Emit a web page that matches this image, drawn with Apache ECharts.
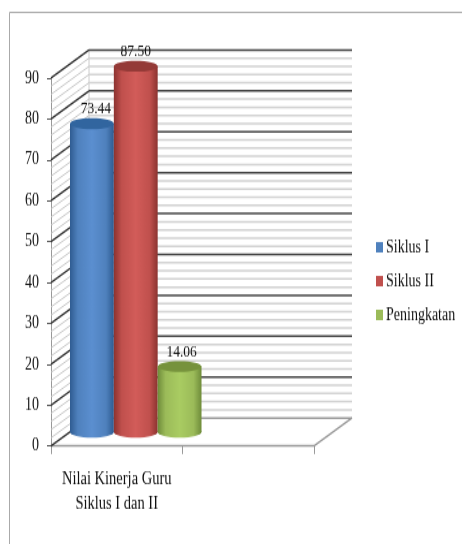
<!DOCTYPE html>
<html>
<head>
<meta charset="utf-8">
<style>
html,body{margin:0;padding:0;background:#fff;width:462px;height:544px}
#c{width:462px;height:418px;transform-origin:0 0;transform:scaleY(1.3014)}
</style>
<script src="https://cdn.jsdelivr.net/npm/echarts@6/dist/echarts.min.js"></script>
</head>
<body>
<div id="c"></div>
<script>
const categories = ['Nilai Kinerja Guru\nSiklus I dan II', ''];
const siklus1 = [73.44];
const siklus2 = [87.50];
const peningkatan = [14.06];
const seriesNames = ['Siklus I', 'Siklus II', 'Peningkatan'];
const wallTicks = [0,2,4,6,8,10,12,14,16,18,20,22,24,26,28,30,32,34,36,38,40,42,44,46,48,50,52,54,56,58,60,62,64,66,68,70,72,74,76,78,80,82,84,86,88,90];

const FONT = '"Liberation Serif", serif';
const K = 544 / 418;                // the whole picture is stretched vertically, like the reference
const DX = 38, DY = -28 / K;        // oblique depth of the box
const chart = echarts.init(document.getElementById('c'));

const palettes = [
  { main:'#4F81BD', edge:'#2F5C92', light:'#5B8FD0', top:'#31659F' },
  { main:'#C0504D', edge:'#8C3330', light:'#D25C59', top:'#943A37' },
  { main:'#9BBB59', edge:'#6F8C3A', light:'#A9CC62', top:'#76923C' }
];
const labelNudge = [4, 0, 2];

function cylinder(idx) {
  return function (params, api) {
    const band = api.size([1, 0])[0];
    const w = band / 3;
    const base = api.coord([0, 0]);
    const top = api.coord([0, api.value(0)]);
    const x0 = base[0] + DX / 2 - 1.5 * w + idx * w;
    const yB = base[1] + DY / 2;
    const yT = top[1] + DY / 2 - 8 / K;
    const ry = 5.5 / K, rx = w / 2;
    const p = palettes[idx];
    const grad = new echarts.graphic.LinearGradient(0, 0, 1, 0, [
      { offset: 0, color: p.edge },
      { offset: 0.18, color: p.main },
      { offset: 0.5, color: p.light },
      { offset: 0.82, color: p.main },
      { offset: 1, color: p.edge }
    ]);
    return {
      type: 'group',
      children: [
        { type: 'ellipse', shape: { cx: x0 + rx, cy: yB, rx: rx, ry: ry }, style: { fill: grad } },
        { type: 'rect', shape: { x: x0, y: yT, width: w, height: yB - yT }, style: { fill: grad } },
        { type: 'ellipse', shape: { cx: x0 + rx, cy: yT, rx: rx, ry: ry }, style: { fill: p.top } },
        { type: 'text', x: x0 + rx + labelNudge[idx], y: yT - 15 / K,
          style: { text: api.value(0).toFixed(2), fill: '#111', font: '13.5px ' + FONT, align: 'center', verticalAlign: 'middle' } }
      ]
    };
  };
}

function walls(params, api) {
  const v = api.value(0);
  const band = api.size([1, 0])[0];
  const c = api.coord([0, v]);
  const xL = c[0] - band / 2, xR = c[0] + 1.5 * band, y = c[1];
  const major = v % 10 === 0;
  const color = v === 0 ? '#999' : major ? '#444' : '#d2d2d2';
  return {
    type: 'group',
    children: [
      { type: 'line', shape: { x1: xL, y1: y, x2: xL + DX, y2: y + DY },
        style: { stroke: major ? '#333' : '#c8c8c8', lineWidth: major ? 1.4 : 1 } },
      { type: 'line', shape: { x1: xL + DX, y1: y + DY, x2: xR + DX, y2: y + DY },
        style: { stroke: color, lineWidth: 1.5 } }
    ].concat(v === 0 ? [
      { type: 'line', shape: { x1: xR, y1: y, x2: xR + DX, y2: y + DY }, style: { stroke: '#999', lineWidth: 1.4 } },
      { type: 'line', shape: { x1: xL + DX, y1: y + DY, x2: xL + DX, y2: y + DY - api.size([0, 90])[1] }, style: { stroke: '#ccc', lineWidth: 1 } }
    ] : [])
  };
}

const custom = (name, data, idx) => ({
  name: name, type: 'custom', data: data, z: 3, silent: true,
  itemStyle: { color: palettes[idx].main },
  encode: { x: -1, y: 0 },
  renderItem: cylinder(idx)
});

chart.setOption({
  animation: false,
  backgroundColor: '#fff',
  graphic: [
    { type: 'line', shape: { x1: 9.5, y1: 9.5, x2: 462, y2: 9.5 }, style: { stroke: '#aaa', lineWidth: 1 } },
    { type: 'line', shape: { x1: 9.5, y1: 9.5, x2: 9.5, y2: 418 }, style: { stroke: '#aaa', lineWidth: 1 } }
  ],
  grid: { left: 51, top: 78 / K, width: 263, height: 368 / K },
  xAxis: {
    type: 'category', data: categories, boundaryGap: true,
    axisLine: { lineStyle: { color: '#999', width: 1.4 } },
    axisTick: { show: true, length: 8 / K, lineStyle: { color: '#999' } },
    axisLabel: { color: '#111', fontFamily: 'Liberation Serif', fontSize: 14.5, lineHeight: 19, margin: 16, interval: 0 }
  },
  yAxis: {
    type: 'value', min: 0, max: 90, interval: 10,
    splitLine: { show: false },
    axisLine: { show: true, lineStyle: { color: '#999' } },
    axisTick: { show: true, length: 4, lineStyle: { color: '#555' } },
    axisLabel: { color: '#111', fontFamily: 'Liberation Serif', fontSize: 14, margin: 12 }
  },
  legend: {
    orient: 'vertical', left: 371, top: 178, itemWidth: 7, itemHeight: 8, itemGap: 12,
    icon: 'rect', data: seriesNames,
    textStyle: { color: '#111', fontFamily: 'Liberation Serif', fontSize: 14, padding: [0, 0, 0, -2] }
  },
  series: [
    { name: 'walls', type: 'custom', data: wallTicks.map(v => [v]), z: 1, silent: true,
      encode: { x: -1, y: 0 }, renderItem: walls },
    custom(seriesNames[0], siklus1, 0),
    custom(seriesNames[1], siklus2, 1),
    custom(seriesNames[2], peningkatan, 2)
  ]
});
</script>
</body>
</html>
